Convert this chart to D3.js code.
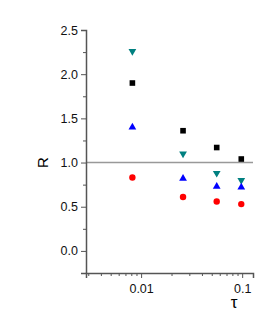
<!DOCTYPE html>
<html>
<head>
<meta charset="utf-8">
<script src="https://cdn.jsdelivr.net/npm/d3@7"></script>
<style>
  body { margin: 0; background: #fff; }
  text { font-family: "Liberation Sans", Arial, sans-serif; }
</style>
</head>
<body>
<svg id="chart"></svg>
<script>
// tau values (x) shared by every series
const tau = [0.0082, 0.026, 0.056, 0.098];

// R values per series
const squares = [1.90, 1.36, 1.17, 1.04];
const downTri = [2.26, 1.10, 0.88, 0.80];
const upTri = [1.40, 0.82, 0.73, 0.72];
const circles = [0.83, 0.61, 0.56, 0.53];

const yMajor = [0, 0.5, 1, 1.5, 2, 2.5];
const yMinor = [-0.25, 0.25, 0.75, 1.25, 1.75, 2.25];
const xMajor = [0.01, 0.1];
const xMinor = [0.003, 0.004, 0.005, 0.006, 0.007, 0.008, 0.009,
                0.02, 0.03, 0.04, 0.05, 0.06, 0.07, 0.08, 0.09];

const W = 255, H = 330;
const svg = d3.select('#chart').attr('width', W).attr('height', H);

const x = d3.scaleLog().domain([0.00285, 0.128]).range([86, 253]);
const y = d3.scaleLinear().domain([-0.25, 2.5]).range([273, 30]);

const axisColor = '#555';

// reference line at R = 1
svg.append('line')
    .attr('x1', x.range()[0]).attr('x2', x.range()[1])
    .attr('y1', y(1)).attr('y2', y(1))
    .style('stroke', '#999').style('stroke-width', 1.5);

// y axis
const gy = svg.append('g').attr('transform', `translate(${x.range()[0]},0)`);
gy.call(d3.axisLeft(y).tickValues(yMajor).tickFormat(d3.format('.1f')).tickSize(5).tickPadding(3));
gy.append('g').call(d3.axisLeft(y).tickValues(yMinor).tickFormat('').tickSize(3));

// x axis
const gx = svg.append('g').attr('transform', `translate(0,${y.range()[0]})`);
gx.call(d3.axisBottom(x).tickValues(xMajor).tickFormat(d => d.toString()).tickSize(5).tickPadding(6));
gx.append('g').call(d3.axisBottom(x).tickValues(xMinor).tickFormat('').tickSize(3));

svg.selectAll('.domain').style('stroke', axisColor).style('stroke-width', 1.5);
svg.selectAll('.tick line').style('stroke', axisColor).style('stroke-width', 1);
svg.selectAll('.tick text').style('font-size', '12.5px').style('fill', '#111');
gx.selectAll('g > g > .domain').remove();
gy.selectAll('g > g > .domain').remove();

// axis titles
svg.append('text')
    .attr('transform', `translate(48,${y(1)}) rotate(-90)`)
    .attr('text-anchor', 'middle')
    .style('font-size', '15px')
    .text('R');
svg.append('text')
    .attr('x', 234).attr('y', 308)
    .attr('text-anchor', 'middle')
    .style('font-size', '17px')
    .text('τ');

// markers
const pts = arr => arr.map((v, i) => ({ t: tau[i], r: v }));

svg.append('g').selectAll('path')
    .data(pts(downTri)).enter().append('path')
    .attr('transform', d => `translate(${x(d.t)},${y(d.r)}) rotate(180)`)
    .attr('d', d3.symbol(d3.symbolTriangle, 26))
    .style('fill', '#008080');

svg.append('g').selectAll('rect')
    .data(pts(squares)).enter().append('rect')
    .attr('x', d => x(d.t) - 2.8).attr('y', d => y(d.r) - 2.8)
    .attr('width', 5.6).attr('height', 5.6)
    .style('fill', '#000');

svg.append('g').selectAll('path')
    .data(pts(upTri)).enter().append('path')
    .attr('transform', d => `translate(${x(d.t)},${y(d.r)})`)
    .attr('d', d3.symbol(d3.symbolTriangle, 26))
    .style('fill', '#0000ff');

svg.append('g').selectAll('circle')
    .data(pts(circles)).enter().append('circle')
    .attr('cx', d => x(d.t)).attr('cy', d => y(d.r))
    .attr('r', 3.2)
    .style('fill', '#ff0000');
</script>
</body>
</html>
